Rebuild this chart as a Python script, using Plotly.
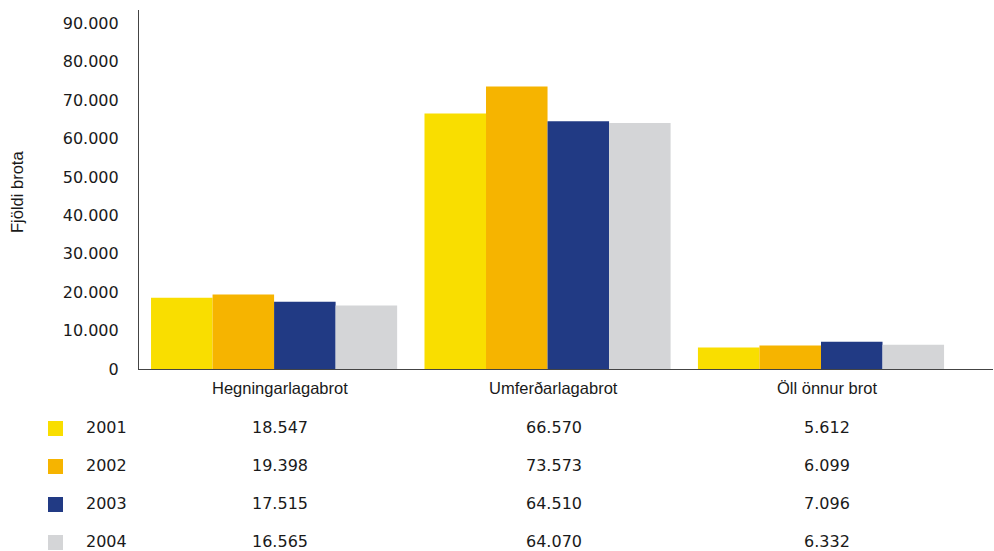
import plotly.graph_objects as go

categories = ["Hegningarlagabrot", "Umferðarlagabrot", "Öll önnur brot"]
years = ["2001", "2002", "2003", "2004"]
values = {
    "2001": [18547, 66570, 5612],
    "2002": [19398, 73573, 6099],
    "2003": [17515, 64510, 7096],
    "2004": [16565, 64070, 6332],
}
colors = {"2001": "#F9DE00", "2002": "#F6B400", "2003": "#213A84", "2004": "#D4D5D7"}
y_ticks = list(range(0, 90001, 10000))
y_title = "Fjöldi brota"

W, H = 994, 551
L, T, R, B = 139, 10, 1, 182
PH = H - T - B
PW = W - L - R

def ypap(px):
    return (H - B - px) / PH

def xpap(px):
    return (px - L) / PW

def fmt(v):
    return f"{v:,}".replace(",", ".")

fig = go.Figure()
for yr in years:
    fig.add_trace(go.Bar(x=categories, y=values[yr], name=yr,
                         marker=dict(color=colors[yr], line=dict(width=0)),
                         showlegend=False))

ann = []
shapes = []
txt_font = dict(family="Liberation Sans, Arial, sans-serif", size=16.5, color="#1a1a1a")
num_font = dict(family="DejaVu Sans, sans-serif", size=16, color="#1a1a1a")

for c in categories:
    ann.append(dict(x=c, xref="x", y=ypap(388), yref="paper", text=c, showarrow=False,
                    xanchor="center", yanchor="middle", xshift=6, font=txt_font))

row_y = [427, 465, 503, 541]
for i, yr in enumerate(years):
    yc = row_y[i]
    shapes.append(dict(type="rect", xref="paper", yref="paper",
                       x0=xpap(48), x1=xpap(63), y0=ypap(yc + 9), y1=ypap(yc - 6),
                       fillcolor=colors[yr], line=dict(width=0)))
    ann.append(dict(x=xpap(84), xref="paper", y=ypap(yc), yref="paper", text=yr,
                    showarrow=False, xanchor="left", yanchor="middle", font=num_font))
    for j, c in enumerate(categories):
        ann.append(dict(x=c, xref="x", y=ypap(yc), yref="paper", text=fmt(values[yr][j]),
                        showarrow=False, xanchor="center", yanchor="middle", xshift=6,
                        font=num_font))

ann.append(dict(x=xpap(17), xref="paper", y=ypap(192), yref="paper", text=y_title,
                textangle=-90, showarrow=False, xanchor="center", yanchor="middle",
                font=txt_font))

fig.update_layout(
    width=W, height=H,
    margin=dict(l=L, t=T, r=R, b=B),
    paper_bgcolor="white", plot_bgcolor="white",
    barmode="group", bargap=0.1, bargroupgap=0,
    separators=",.",
    annotations=ann, shapes=shapes,
    showlegend=False,
)
fig.update_xaxes(type="category", range=[-0.494, 2.629], showticklabels=False,
                 showline=True, linecolor="#444444", linewidth=1.2, ticks="",
                 showgrid=False, zeroline=False)
fig.update_yaxes(range=[0, 93500], tickvals=y_ticks, tickformat=",d",
                 showline=True, linecolor="#444444", linewidth=1.2, ticks="",
                 showgrid=False, zeroline=False, ticklabelstandoff=16,
                 tickfont=num_font)

fig.write_html("out.html")
